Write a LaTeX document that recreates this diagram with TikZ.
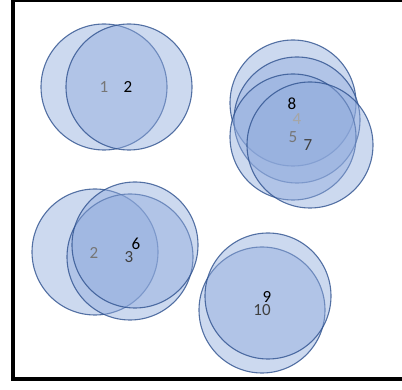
\documentclass[tikz,border=0pt]{standalone}
\usepackage{fontspec}
\setmainfont{Carlito}
\definecolor{cfill}{RGB}{143,170,220}
\definecolor{cline}{RGB}{47,82,143}
\definecolor{lblA}{RGB}{0,0,0}
\definecolor{lblB}{RGB}{64,64,64}
\definecolor{lblC}{RGB}{118,118,118}
\definecolor{lblD}{RGB}{166,166,166}
\begin{document}
\begin{tikzpicture}[x=1pt,y=-1pt,
  bub/.style={circle, minimum size=126pt, inner sep=0pt, fill=cfill, fill opacity=0.45, draw=cline, draw opacity=0.8, line width=1.1pt},
  lbl/.style={font=\fontsize{17}{17}\selectfont, inner sep=0pt, text opacity=1}]
\useasboundingbox (0,0) rectangle (402,390);
% border
\draw[line width=4pt] (13,0) -- (13,379);
\draw[line width=2pt] (11,1) -- (402,1);
\draw[line width=3.5pt] (11,379) -- (402,379);
% group 1
\node[bub] (c1) at (104,87) {};
\node[bub] (c2) at (129,87) {};
\node[lbl, text=lblC] (t1) at (104,87) {1};
\node[lbl, text=lblA] (t2) at (128,87) {2};
% group 2
\node[bub] (c8) at (293,103) {};
\node[bub] (c4) at (297,120) {};
\node[bub] (c5) at (293,137) {};
\node[bub] (c7) at (310,145) {};
\node[lbl, text=lblA] (t8) at (292,104) {8};
\node[lbl, text=lblD] (t4) at (297,119) {4};
\node[lbl, text=lblC] (t5) at (293,137) {5};
\node[lbl, text=lblB] (t7) at (308,145) {7};
% group 3
\node[bub] (d2) at (95,252) {};
\node[bub] (d3) at (130,257) {};
\node[bub] (d6) at (135,245) {};
\node[lbl, text=lblC] (u2) at (94,253) {2};
\node[lbl, text=lblB] (u3) at (129,257) {3};
\node[lbl, text=lblA] (u6) at (136,244) {6};
% group 4
\node[bub] (e10) at (262,310) {};
\node[bub] (e9) at (268,296) {};
\node[lbl, text=lblA] (v9) at (267,297) {9};
\node[lbl, text=lblB] (v10) at (262,310) {10};
\end{tikzpicture}
\end{document}
